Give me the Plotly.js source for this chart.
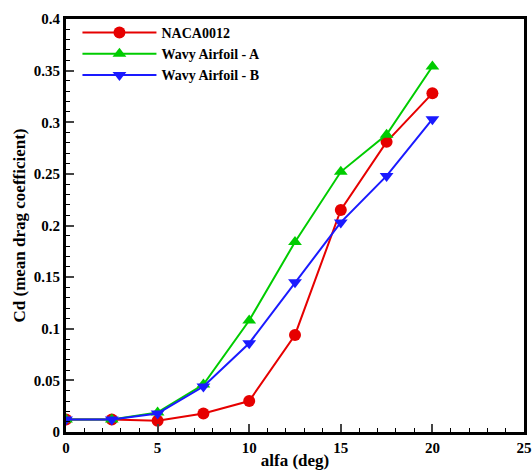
<!DOCTYPE html>
<html><head><meta charset="utf-8">
<script src="https://cdn.plot.ly/plotly-3.0.1.min.js"></script>
<style>body{margin:0;background:#fff}#c{width:532px;height:470px}</style>
</head><body><div id="c"></div>
<script>
const alfa = [0, 2.5, 5, 7.5, 10, 12.5, 15, 17.5, 20];
const naca0012 = [0.012, 0.012, 0.011, 0.018, 0.030, 0.094, 0.215, 0.281, 0.328];
const wavyA = [0.012, 0.012, 0.019, 0.046, 0.108, 0.184, 0.252, 0.288, 0.354];
const wavyB = [0.012, 0.012, 0.018, 0.044, 0.086, 0.145, 0.203, 0.248, 0.303];
const names = ["NACA0012", "Wavy Airfoil - A", "Wavy Airfoil - B"];

const font = {family: "Liberation Serif, Times New Roman, serif", color: "#000"};
const traces = [
  {x: alfa, y: naca0012, name: names[0], mode: "lines+markers",
   line: {color: "#e60000", width: 2}, marker: {symbol: "circle", size: 12, color: "#e60000"}},
  {x: alfa, y: wavyA, name: names[1], mode: "lines+markers",
   line: {color: "#00cc00", width: 2}, marker: {symbol: "triangle-up", size: 12, color: "#00cc00"}},
  {x: alfa, y: wavyB, name: names[2], mode: "lines+markers",
   line: {color: "#1a1aff", width: 2}, marker: {symbol: "triangle-down", size: 12, color: "#1a1aff"}}
];
const layout = {
  width: 532, height: 470,
  margin: {l: 66, r: 8, t: 19, b: 38},
  paper_bgcolor: "#fff", plot_bgcolor: "#fff",
  showlegend: true,
  legend: {x: 0.025, y: 1.005, xanchor: "left", yanchor: "top", bgcolor: "rgba(0,0,0,0)",
    font: {family: font.family, size: 14, color: "#000", weight: "bold"}, tracegroupgap: 0, itemwidth: 74},
  xaxis: {range: [0, 25], dtick: 5, tick0: 0, ticks: "inside", ticklen: 8, tickwidth: 2,
    showline: true, linewidth: 3, linecolor: "#000", mirror: true, showgrid: false, zeroline: false,
    minor: {dtick: 1, ticks: "inside", ticklen: 4, tickwidth: 1, tickcolor: "#000", showgrid: false},
    tickfont: {family: font.family, size: 15, color: "#000", weight: "bold"},
    title: {text: "alfa (deg)", font: {family: font.family, size: 17, color: "#000", weight: "bold"}, standoff: 1}},
  yaxis: {range: [0, 0.4], dtick: 0.05, tick0: 0, ticks: "inside", ticklen: 8, tickwidth: 2,
    showline: true, linewidth: 3, linecolor: "#000", mirror: true, showgrid: false, zeroline: false,
    minor: {dtick: 0.01, ticks: "inside", ticklen: 4, tickwidth: 1, tickcolor: "#000", showgrid: false},
    tickfont: {family: font.family, size: 15, color: "#000", weight: "bold"},
    title: {text: "Cd (mean drag coefficient)", font: {family: font.family, size: 17, color: "#000", weight: "bold"}, standoff: 4}}
};
Plotly.newPlot("c", traces, layout, {displayModeBar: false, staticPlot: true});
</script></body></html>
